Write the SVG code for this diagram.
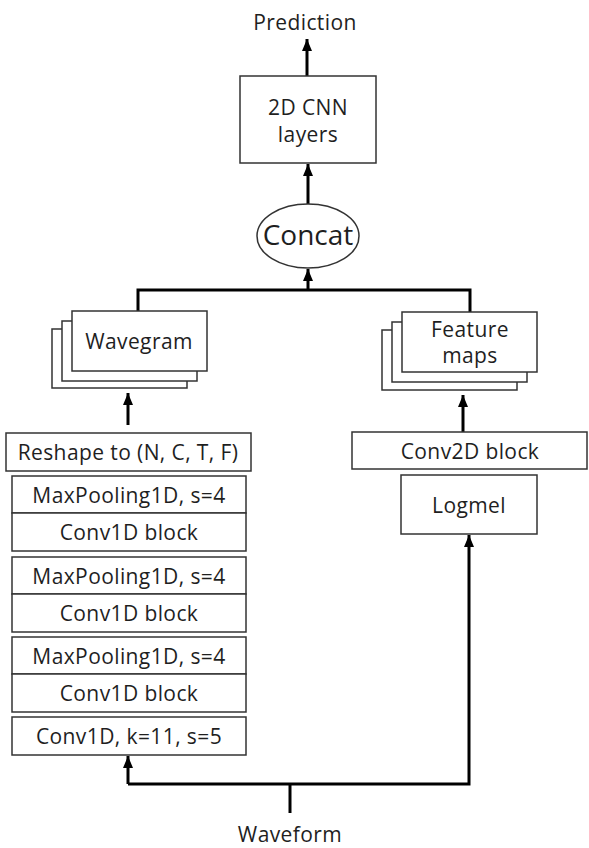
<svg xmlns="http://www.w3.org/2000/svg" width="589" height="848" viewBox="0 0 589 848">
<defs>
<marker id="ah" markerWidth="12" markerHeight="10" refX="12" refY="5" orient="auto" markerUnits="userSpaceOnUse" viewBox="0 0 12 10">
<path d="M0,0 L12,5 L0,10 Z" fill="#000"/>
</marker>
<style>
.box{fill:#fff;stroke:#333;stroke-width:1.5}
.t{font-family:"Open Sans","Liberation Sans",Arial,sans-serif;font-size:21px;fill:#1f1f1f;text-anchor:middle;letter-spacing:0.4px}
.c{fill:none;stroke:#000;stroke-width:3}
</style>
</defs>
<rect width="589" height="848" fill="#fff"/>
<g id="connectors">
<path class="c" d="M307,76 L307,39" marker-end="url(#ah)"/>
<path class="c" d="M308,204 L308,164" marker-end="url(#ah)"/>
<path class="c" d="M308,290 L308,269" marker-end="url(#ah)"/>
<path class="c" d="M138,311 L138,290 L470,290 L470,312"/>
<path class="c" d="M128,425 L128,393" marker-end="url(#ah)"/>
<path class="c" d="M463,432 L463,395" marker-end="url(#ah)"/>
<path class="c" d="M290,813 L290,784"/>
<path class="c" d="M128,784 L469,784 L469,535" marker-end="url(#ah)"/>
<path class="c" d="M128,784 L128,756" marker-end="url(#ah)"/>
</g>
<g id="prediction"><text class="t" x="305" y="30">Prediction</text></g>
<g id="cnn2d">
<rect class="box" x="240" y="76" width="136" height="87"/>
<text class="t" x="308" y="115">2D CNN</text>
<text class="t" x="308" y="142">layers</text>
</g>
<g id="concat">
<ellipse class="box" cx="308" cy="236" rx="51" ry="32"/>
<text class="t" x="308" y="245" style="font-size:28px;letter-spacing:0">Concat</text>
</g>
<g id="wavegram">
<rect class="box" x="52" y="329" width="135" height="59"/>
<rect class="box" x="62" y="321" width="135" height="60"/>
<rect class="box" x="72" y="311" width="135" height="60"/>
<text class="t" x="139" y="349">Wavegram</text>
</g>
<g id="featuremaps">
<rect class="box" x="382" y="330" width="135" height="60"/>
<rect class="box" x="392" y="322" width="135" height="60"/>
<rect class="box" x="402" y="312" width="135" height="60"/>
<text class="t" x="470" y="337">Feature</text>
<text class="t" x="470" y="363">maps</text>
</g>
<g id="reshape">
<rect class="box" x="6" y="433" width="245" height="38"/>
<text class="t" x="128" y="460">Reshape to (N, C, T, F)</text>
</g>
<g id="block1">
<rect class="box" x="12" y="476" width="234" height="37"/>
<rect class="box" x="12" y="513" width="234" height="38"/>
<text class="t" x="129" y="503">MaxPooling1D, s=4</text>
<text class="t" x="129" y="540">Conv1D block</text>
</g>
<g id="block2">
<rect class="box" x="12" y="557" width="234" height="37"/>
<rect class="box" x="12" y="594" width="234" height="38"/>
<text class="t" x="129" y="584">MaxPooling1D, s=4</text>
<text class="t" x="129" y="621">Conv1D block</text>
</g>
<g id="block3">
<rect class="box" x="12" y="637" width="234" height="37"/>
<rect class="box" x="12" y="674" width="234" height="38"/>
<text class="t" x="129" y="664">MaxPooling1D, s=4</text>
<text class="t" x="129" y="701">Conv1D block</text>
</g>
<g id="conv1d">
<rect class="box" x="12" y="717" width="234" height="38"/>
<text class="t" x="129" y="744">Conv1D, k=11, s=5</text>
</g>
<g id="conv2d">
<rect class="box" x="352" y="432" width="235" height="37"/>
<text class="t" x="470" y="459">Conv2D block</text>
</g>
<g id="logmel">
<rect class="box" x="401" y="475" width="136" height="59"/>
<text class="t" x="469" y="513">Logmel</text>
</g>
<g id="waveform"><text class="t" x="290" y="842">Waveform</text></g>
</svg>
